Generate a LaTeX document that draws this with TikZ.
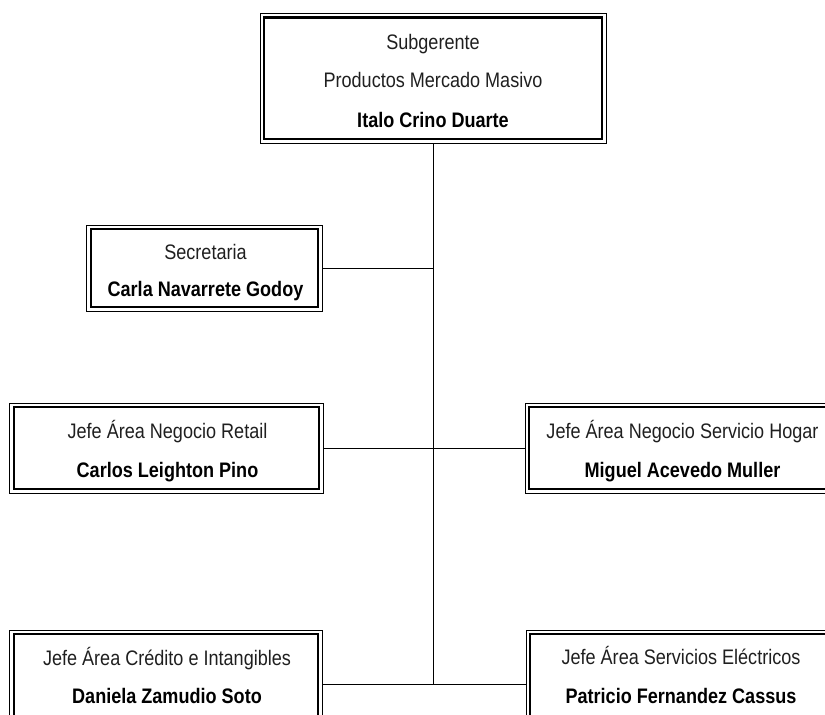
\documentclass[tikz,border=0pt]{standalone}
\usepackage{fontspec}
\setmainfont{Liberation Sans}[FakeStretch=0.86]
\begin{document}
\begin{tikzpicture}[x=1bp,y=-1bp,
  box/.style={draw, line width=1bp, inner sep=0pt, outer sep=0pt},
  frame/.style={line width=2.5bp},
  role/.style={anchor=base, inner sep=0pt, text=black!88,
    font=\fontsize{21bp}{25bp}\selectfont},
  who/.style={anchor=base, inner sep=0pt, text=black,
    font=\fontsize{21bp}{25bp}\selectfont\bfseries},
  link/.style={line width=1bp}]
\useasboundingbox (0,0) rectangle (825,715);
\clip (0,0) rectangle (825,715);

% boxes (outer thin border)
\node[box, minimum width=346bp, minimum height=129.5bp] (top) at (433,78.25) {};
\node[box, minimum width=235bp, minimum height=86bp]    (sec) at (204.5,268) {};
\node[box, minimum width=313bp, minimum height=90bp]    (ret) at (166.5,448) {};
\node[box, minimum width=313bp, minimum height=90bp]    (hog) at (681.5,448) {};
\node[box, minimum width=312bp, minimum height=90bp]    (cre) at (166,675) {};
\node[box, minimum width=313bp, minimum height=90bp]    (ele) at (682.5,675) {};

% inner thick border of every box
\foreach \b in {top,sec,ret,hog,cre,ele}
  \draw[frame] ([xshift=4bp,yshift=-4bp]\b.north west)
    rectangle ([xshift=-4bp,yshift=4bp]\b.south east);

% texts
\node[role] (topA) at (433,50)  {Subgerente};
\node[role] (topB) at (433,88)  {Productos Mercado Masivo};
\node[who]  (topC) at (433,128) {Italo Crino Duarte};

\node[role] (secA) at (205.5,259) {Secretaria};
\node[who]  (secB) at (205.5,296) {Carla Navarrete Godoy};

\node[role] (retA) at (167.5,438) {Jefe Área Negocio Retail};
\node[who]  (retB) at (167.5,477) {Carlos Leighton Pino};

\node[role] (hogA) at (682.5,438) {Jefe Área Negocio Servicio Hogar};
\node[who]  (hogB) at (682.5,477) {Miguel Acevedo Muller};

\node[role] (creA) at (167,665) {Jefe Área Crédito e Intangibles};
\node[who]  (creB) at (167,703) {Daniela Zamudio Soto};

\node[role] (eleA) at (681,664) {Jefe Área Servicios Eléctricos};
\node[who]  (eleB) at (681,703) {Patricio Fernandez Cassus};

% connectors
\coordinate (jb) at (433,684);
\draw[link] (top.south) -- (jb);
\draw[link] (sec.east) -- (sec.east -| top.south);
\draw[link] (ret.east) -- (hog.west);
\draw[link] (cre.east |- jb) -- (ele.west |- jb);
\end{tikzpicture}
\end{document}
